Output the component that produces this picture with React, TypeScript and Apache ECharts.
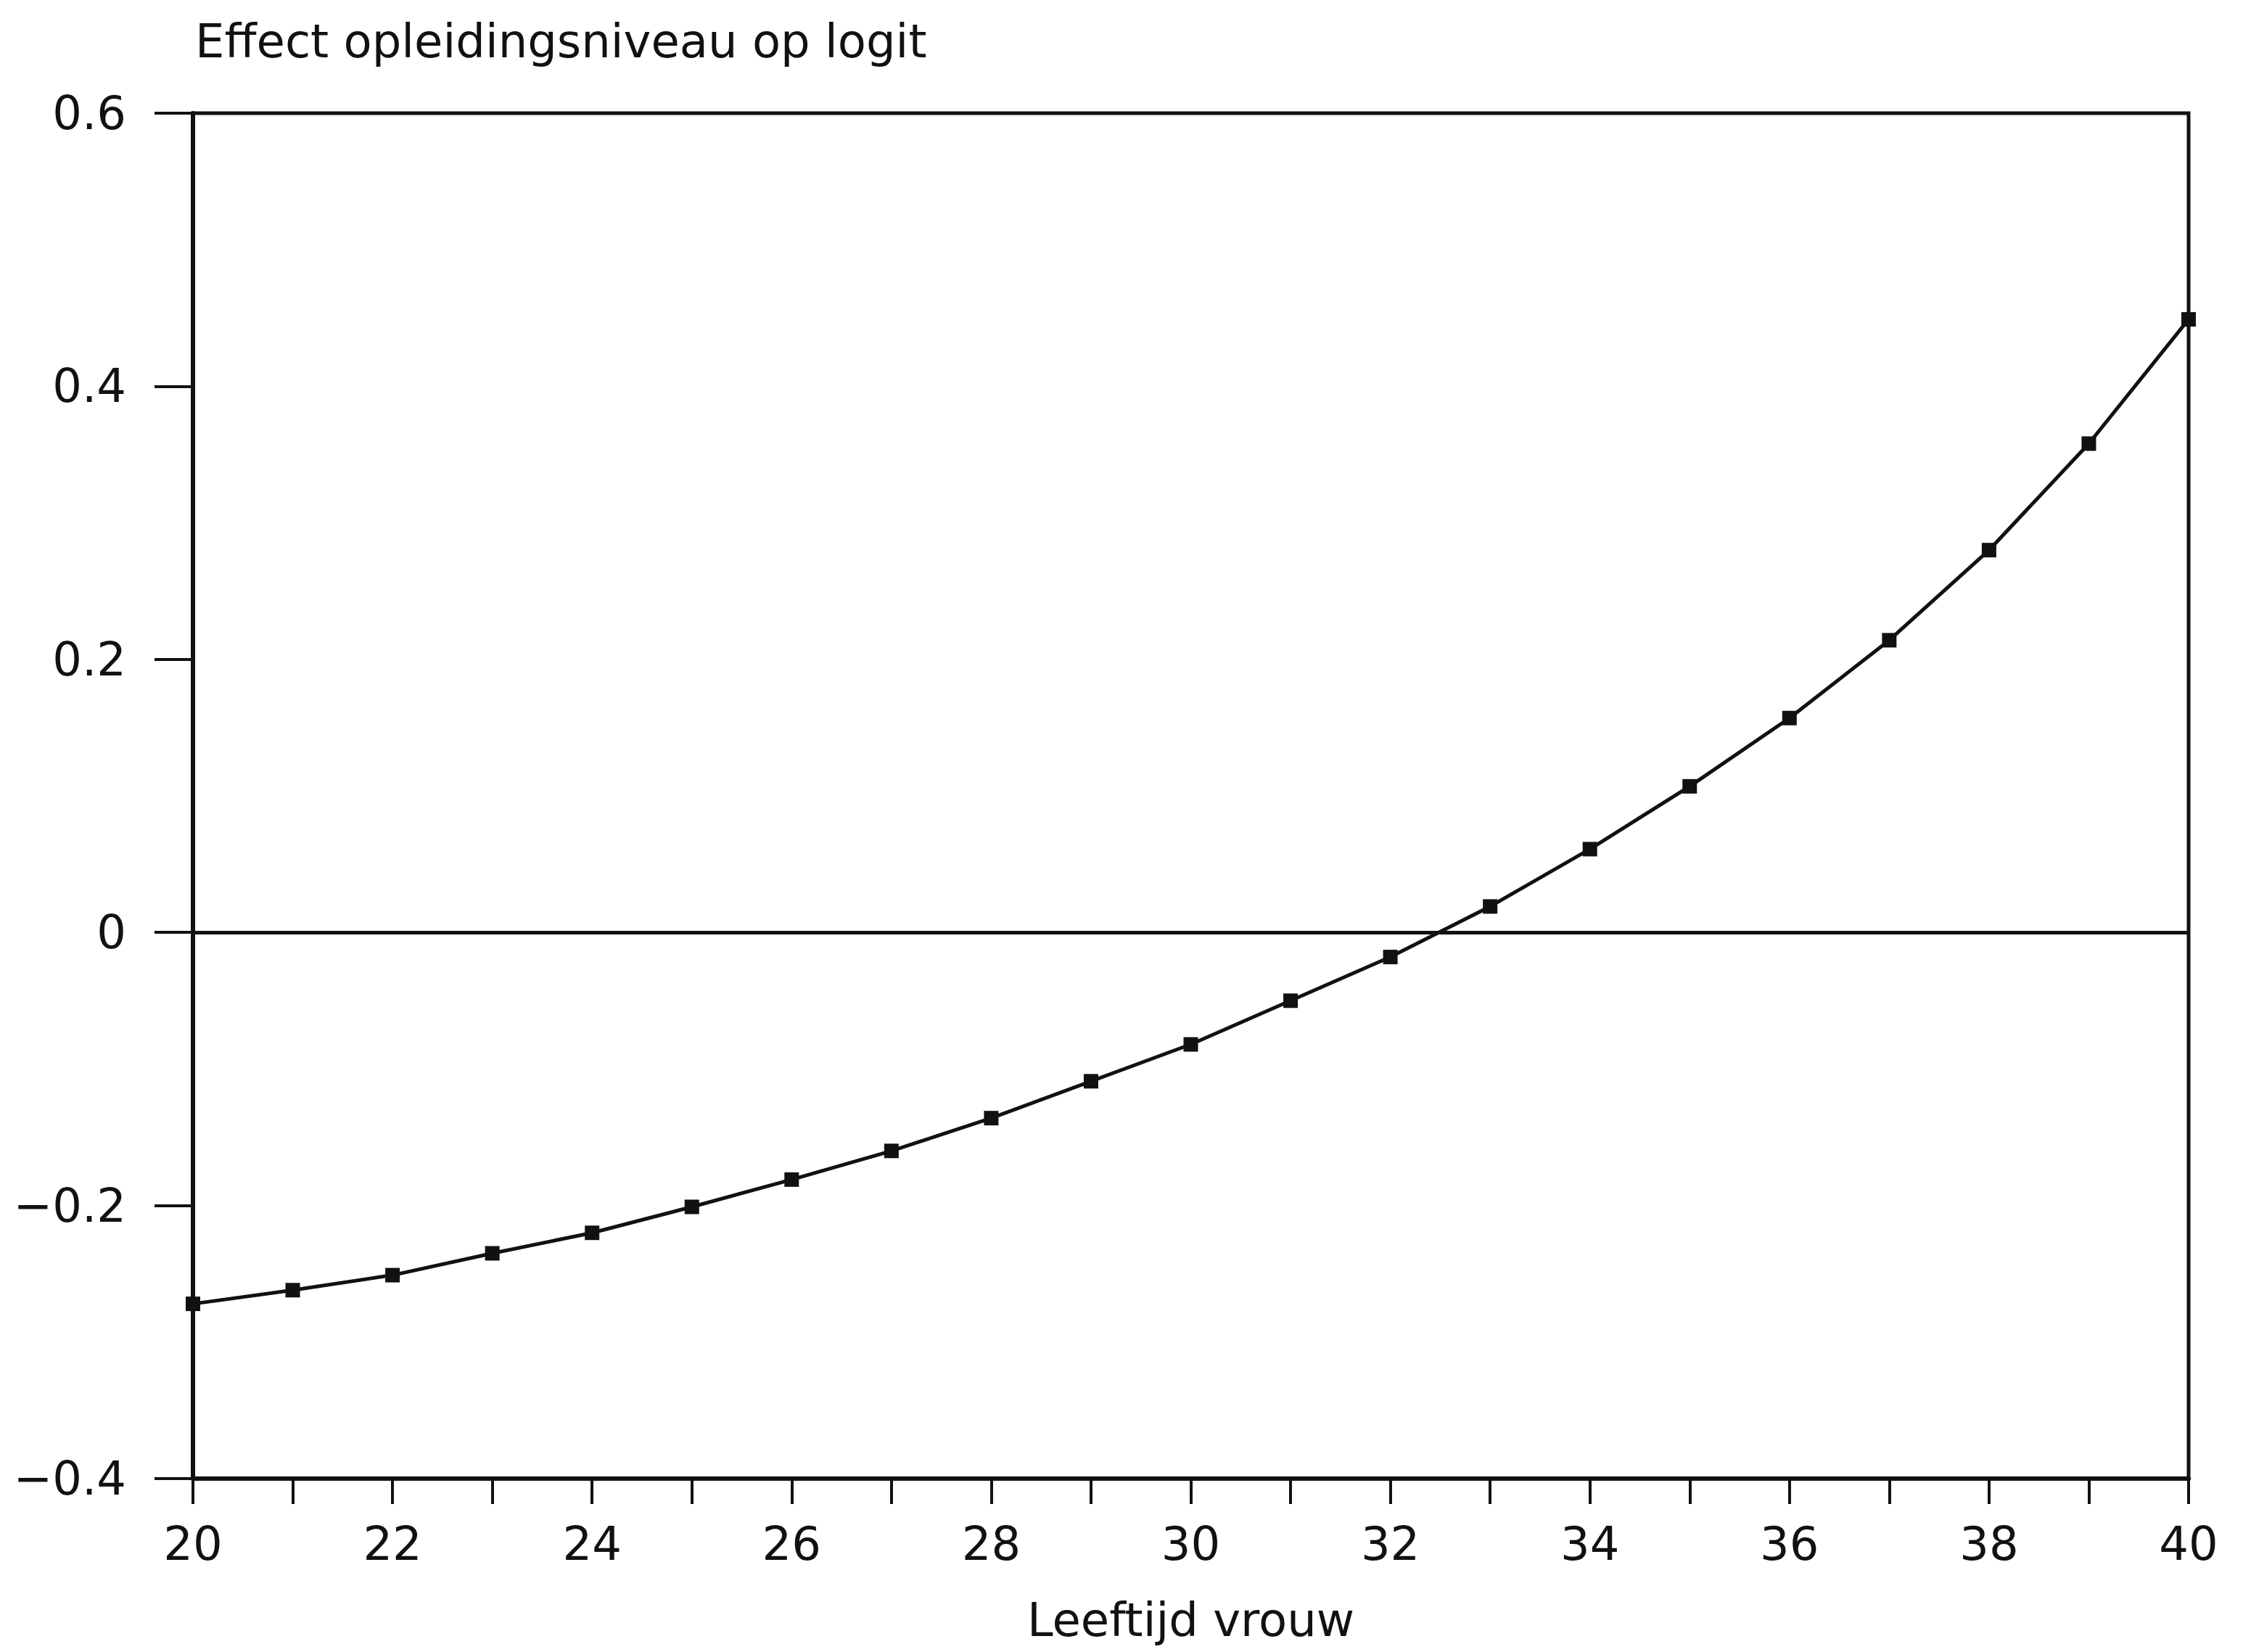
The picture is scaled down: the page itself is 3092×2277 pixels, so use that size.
import React, { useEffect, useRef } from "react";
import * as echarts from "echarts";

const ages = [20, 21, 22, 23, 24, 25, 26, 27, 28, 29, 30, 31, 32, 33, 34, 35, 36, 37, 38, 39, 40];
const effect = [-0.272, -0.262, -0.251, -0.235, -0.22, -0.201, -0.181, -0.16, -0.136, -0.109, -0.082, -0.05, -0.018, 0.019, 0.061, 0.107, 0.157, 0.214, 0.28, 0.358, 0.449];
const titleText = "Effect opleidingsniveau op logit";
const xName = "Leeftijd vrouw";

const FONT = "DejaVu Sans";

export default function App() {
  const ref = useRef<HTMLDivElement>(null);
  useEffect(() => {
    document.body.style.margin = "0";
    const chart = echarts.init(ref.current!, null, { renderer: "svg" });
    const data = ages.map((a, i) => [a, effect[i]]);
    chart.setOption({
      animation: false,
      backgroundColor: "#ffffff",
      title: {
        text: titleText,
        left: 264,
        top: 20,
        textStyle: { fontFamily: FONT, fontSize: 64, fontWeight: "normal", color: "#111" },
      },
      grid: {
        left: 266,
        right: 75,
        top: 156,
        bottom: 239,
        show: true,
        borderColor: "#111",
        borderWidth: 5,
        backgroundColor: "transparent",
      },
      xAxis: {
        type: "value",
        min: 20,
        max: 40,
        interval: 2,
        name: xName,
        nameLocation: "middle",
        nameGap: 163,
        nameTextStyle: { fontFamily: FONT, fontSize: 64, color: "#111" },
        axisLine: { show: true, onZero: false, lineStyle: { color: "#111", width: 6 } },
        axisTick: { show: true, inside: false, length: 35, lineStyle: { color: "#111", width: 4 } },
        minorTick: { show: true, splitNumber: 2, length: 35, lineStyle: { color: "#111", width: 4 } },
        axisLabel: { fontFamily: FONT, fontSize: 64, color: "#111", margin: 58 },
        splitLine: { show: false },
        minorSplitLine: { show: false },
      },
      yAxis: {
        type: "value",
        min: -0.4,
        max: 0.6,
        interval: 0.2,
        axisLine: { show: true, onZero: false, lineStyle: { color: "#111", width: 6 } },
        axisTick: { show: true, inside: false, length: 53, lineStyle: { color: "#111", width: 4 } },
        axisLabel: {
          fontFamily: FONT,
          fontSize: 64,
          color: "#111",
          margin: 92,
          formatter: (v: number) => {
            const r = Math.round(v * 10) / 10;
            if (r === 0) return "0";
            return (r < 0 ? "\u2212" : "") + Math.abs(r).toFixed(1);
          },
        },
        splitLine: { show: false },
      },
      series: [
        {
          type: "line",
          data,
          smooth: false,
          symbol: "rect",
          symbolSize: 20,
          itemStyle: { color: "#111" },
          lineStyle: { color: "#111", width: 5 },
          markLine: {
            silent: true,
            symbol: "none",
            label: { show: false },
            lineStyle: { color: "#111", width: 5, type: "solid" },
            data: [{ yAxis: 0 }],
          },
        },
      ],
    });
    return () => chart.dispose();
  }, []);
  return <div ref={ref} style={{ width: 3092, height: 2277 }} />;
}
